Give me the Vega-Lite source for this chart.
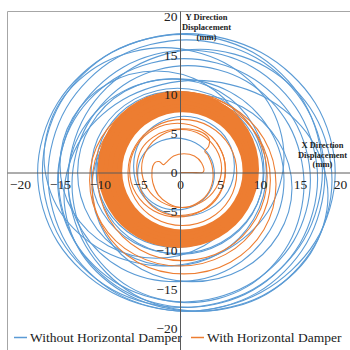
{
"$schema":"https://vega.github.io/schema/vega-lite/v6.json",
"width":343,"height":339,
"autosize":{"type":"none"},
"padding":{"left":7,"top":11,"right":0,"bottom":0},
"config":{"view":{"stroke":"#a6a6a6","strokeWidth":1},"background":"white"},
"datasets":{
"blue":[
{"l":1,"x":19.4,"y":0},{"l":1,"x":16.9,"y":8.9},{"l":1,"x":10.1,"y":15.4},{"l":1,"x":0.8,"y":17.8},{"l":1,"x":-8.5,"y":15.4},{"l":1,"x":-15.3,"y":8.9},{"l":1,"x":-17.8,"y":0},{"l":1,"x":-15.3,"y":-8.9},{"l":1,"x":-8.5,"y":-15.4},{"l":1,"x":0.8,"y":-17.8},{"l":1,"x":10.1,"y":-15.4},{"l":1,"x":16.9,"y":-8.9},
{"l":2,"x":18.1,"y":-0.4},{"l":2,"x":15.8,"y":8.3},{"l":2,"x":9.5,"y":14.7},{"l":2,"x":0.8,"y":17.0},{"l":2,"x":-7.9,"y":14.7},{"l":2,"x":-14.2,"y":8.3},{"l":2,"x":-16.5,"y":-0.4},{"l":2,"x":-14.2,"y":-9.1},{"l":2,"x":-7.9,"y":-15.5},{"l":2,"x":0.8,"y":-17.8},{"l":2,"x":9.5,"y":-15.5},{"l":2,"x":15.8,"y":-9.1},
{"l":3,"x":17.8,"y":0.2},{"l":3,"x":15.5,"y":9.0},{"l":3,"x":9.1,"y":15.4},{"l":3,"x":0.3,"y":17.7},{"l":3,"x":-8.5,"y":15.4},{"l":3,"x":-14.9,"y":9.0},{"l":3,"x":-17.2,"y":0.2},{"l":3,"x":-14.9,"y":-8.6},{"l":3,"x":-8.5,"y":-15.0},{"l":3,"x":0.3,"y":-17.3},{"l":3,"x":9.1,"y":-15.0},{"l":3,"x":15.5,"y":-8.6},
{"l":4,"x":17.2,"y":-0.8},{"l":4,"x":15.0,"y":7.5},{"l":4,"x":9.1,"y":13.5},{"l":4,"x":1.0,"y":15.7},{"l":4,"x":-7.1,"y":13.5},{"l":4,"x":-13.0,"y":7.5},{"l":4,"x":-15.2,"y":-0.8},{"l":4,"x":-13.0,"y":-9.1},{"l":4,"x":-7.1,"y":-15.1},{"l":4,"x":1.0,"y":-17.3},{"l":4,"x":9.1,"y":-15.1},{"l":4,"x":15.0,"y":-9.1},
{"l":5,"x":16.3,"y":-1.0},{"l":5,"x":14.2,"y":6.8},{"l":5,"x":8.4,"y":12.5},{"l":5,"x":0.5,"y":14.6},{"l":5,"x":-7.4,"y":12.5},{"l":5,"x":-13.2,"y":6.8},{"l":5,"x":-15.3,"y":-1.0},{"l":5,"x":-13.2,"y":-8.8},{"l":5,"x":-7.4,"y":-14.5},{"l":5,"x":0.5,"y":-16.6},{"l":5,"x":8.4,"y":-14.5},{"l":5,"x":14.2,"y":-8.8},
{"l":6,"x":15.5,"y":-1.5},{"l":6,"x":13.6,"y":6.1},{"l":6,"x":8.3,"y":11.7},{"l":6,"x":1.0,"y":13.7},{"l":6,"x":-6.3,"y":11.7},{"l":6,"x":-11.6,"y":6.1},{"l":6,"x":-13.5,"y":-1.5},{"l":6,"x":-11.6,"y":-9.1},{"l":6,"x":-6.3,"y":-14.7},{"l":6,"x":1.0,"y":-16.7},{"l":6,"x":8.3,"y":-14.7},{"l":6,"x":13.6,"y":-9.1},
{"l":7,"x":13.0,"y":-1.0},{"l":7,"x":11.2,"y":5.5},{"l":7,"x":6.3,"y":10.3},{"l":7,"x":-0.5,"y":12.0},{"l":7,"x":-7.3,"y":10.3},{"l":7,"x":-12.2,"y":5.5},{"l":7,"x":-14.0,"y":-1.0},{"l":7,"x":-12.2,"y":-7.5},{"l":7,"x":-7.3,"y":-12.3},{"l":7,"x":-0.5,"y":-14.0},{"l":7,"x":6.3,"y":-12.3},{"l":7,"x":11.2,"y":-7.5},
{"l":8,"x":14.0,"y":-2.0},{"l":8,"x":12.3,"y":4.0},{"l":8,"x":7.8,"y":8.4},{"l":8,"x":1.5,"y":10.0},{"l":8,"x":-4.8,"y":8.4},{"l":8,"x":-9.3,"y":4.0},{"l":8,"x":-11.0,"y":-2.0},{"l":8,"x":-9.3,"y":-8.0},{"l":8,"x":-4.8,"y":-12.4},{"l":8,"x":1.5,"y":-14.0},{"l":8,"x":7.8,"y":-12.4},{"l":8,"x":12.3,"y":-8.0},
{"l":9,"x":10.8,"y":0},{"l":9,"x":9.2,"y":6.0},{"l":9,"x":4.9,"y":10.4},{"l":9,"x":-1.0,"y":12.0},{"l":9,"x":-6.9,"y":10.4},{"l":9,"x":-11.2,"y":6.0},{"l":9,"x":-12.8,"y":0},{"l":9,"x":-11.2,"y":-6.0},{"l":9,"x":-6.9,"y":-10.4},{"l":9,"x":-1.0,"y":-12.0},{"l":9,"x":4.9,"y":-10.4},{"l":9,"x":9.2,"y":-6.0},
{"l":10,"x":10.5,"y":0.2},{"l":10,"x":9.1,"y":5.5},{"l":10,"x":5.1,"y":9.4},{"l":10,"x":-0.3,"y":10.8},{"l":10,"x":-5.7,"y":9.4},{"l":10,"x":-9.7,"y":5.5},{"l":10,"x":-11.1,"y":0.2},{"l":10,"x":-9.7,"y":-5.1},{"l":10,"x":-5.7,"y":-9.0},{"l":10,"x":-0.3,"y":-10.4},{"l":10,"x":5.1,"y":-9.0},{"l":10,"x":9.1,"y":-5.1},
{"l":11,"x":10.4,"y":-0.2},{"l":11,"x":9.0,"y":5.0},{"l":11,"x":5.2,"y":8.7},{"l":11,"x":0,"y":10.1},{"l":11,"x":-5.2,"y":8.7},{"l":11,"x":-9.0,"y":5.0},{"l":11,"x":-10.4,"y":-0.2},{"l":11,"x":-9.0,"y":-5.4},{"l":11,"x":-5.2,"y":-9.1},{"l":11,"x":0,"y":-10.5},{"l":11,"x":5.2,"y":-9.1},{"l":11,"x":9.0,"y":-5.4},
{"l":12,"x":9.5,"y":0.4},{"l":12,"x":8.2,"y":5.4},{"l":12,"x":4.5,"y":9.1},{"l":12,"x":-0.5,"y":10.4},{"l":12,"x":-5.5,"y":9.1},{"l":12,"x":-9.2,"y":5.4},{"l":12,"x":-10.5,"y":0.4},{"l":12,"x":-9.2,"y":-4.6},{"l":12,"x":-5.5,"y":-8.3},{"l":12,"x":-0.5,"y":-9.6},{"l":12,"x":4.5,"y":-8.3},{"l":12,"x":8.2,"y":-4.6},
{"l":13,"x":9.0,"y":1},{"l":13,"x":7.4,"y":7.0},{"l":13,"x":3.0,"y":11.4},{"l":13,"x":-3.0,"y":13.0},{"l":13,"x":-9.0,"y":11.4},{"l":13,"x":-13.4,"y":7.0},{"l":13,"x":-15.0,"y":1},{"l":13,"x":-13.4,"y":-5.0},{"l":13,"x":-9.0,"y":-9.4},{"l":13,"x":-3.0,"y":-11.0},{"l":13,"x":3.0,"y":-9.4},{"l":13,"x":7.4,"y":-5.0},
{"l":14,"x":18.5,"y":-3},{"l":14,"x":16.3,"y":4.4},{"l":14,"x":10.3,"y":9.8},{"l":14,"x":2,"y":11.8},{"l":14,"x":-6.3,"y":9.8},{"l":14,"x":-12.3,"y":4.4},{"l":14,"x":-14.5,"y":-3},{"l":14,"x":-12.3,"y":-10.4},{"l":14,"x":-6.3,"y":-15.8},{"l":14,"x":2,"y":-17.8},{"l":14,"x":10.3,"y":-15.8},{"l":14,"x":16.3,"y":-10.4},
{"l":15,"x":6.8,"y":0.8},{"l":15,"x":6.0,"y":4.0},{"l":15,"x":3.7,"y":6.3},{"l":15,"x":0.5,"y":7.2},{"l":15,"x":-2.7,"y":6.3},{"l":15,"x":-5.0,"y":4.0},{"l":15,"x":-5.8,"y":0.8},{"l":15,"x":-5.0,"y":-2.4},{"l":15,"x":-2.7,"y":-4.7},{"l":15,"x":0.5,"y":-5.6},{"l":15,"x":3.7,"y":-4.7},{"l":15,"x":6.0,"y":-2.4},
{"l":16,"x":4.3,"y":-0.2},{"l":16,"x":3.7,"y":2.1},{"l":16,"x":1.9,"y":3.8},{"l":16,"x":-0.5,"y":4.4},{"l":16,"x":-2.9,"y":3.8},{"l":16,"x":-4.7,"y":2.1},{"l":16,"x":-5.3,"y":-0.2},{"l":16,"x":-4.7,"y":-2.5},{"l":16,"x":-2.9,"y":-4.2},{"l":16,"x":-0.5,"y":-4.8},{"l":16,"x":1.9,"y":-4.2},{"l":16,"x":3.7,"y":-2.5},
{"l":17,"x":13.0,"y":2},{"l":17,"x":11.0,"y":9.0},{"l":17,"x":5.5,"y":14.1},{"l":17,"x":-2,"y":16},{"l":17,"x":-9.5,"y":14.1},{"l":17,"x":-15.0,"y":9.0},{"l":17,"x":-17.0,"y":2},{"l":17,"x":-15.0,"y":-5.0},{"l":17,"x":-9.5,"y":-10.1},{"l":17,"x":-2,"y":-12},{"l":17,"x":5.5,"y":-10.1},{"l":17,"x":11.0,"y":-5.0},
{"l":18,"x":19.0,"y":-1},{"l":18,"x":16.8,"y":7.4},{"l":18,"x":10.8,"y":13.5},{"l":18,"x":2.5,"y":15.8},{"l":18,"x":-5.8,"y":13.5},{"l":18,"x":-11.8,"y":7.4},{"l":18,"x":-14.0,"y":-1},{"l":18,"x":-11.8,"y":-9.4},{"l":18,"x":-5.8,"y":-15.6},{"l":18,"x":2.5,"y":-17.8},{"l":18,"x":10.8,"y":-15.6},{"l":18,"x":16.8,"y":-9.4}
],
"band":[
{"l":1,"x":8.2,"y":0.2},{"l":1,"x":7.1,"y":4.2},{"l":1,"x":4.3,"y":7.0},{"l":1,"x":0.3,"y":8.1},{"l":1,"x":-3.7,"y":7.0},{"l":1,"x":-6.5,"y":4.2},{"l":1,"x":-7.6,"y":0.2},{"l":1,"x":-6.5,"y":-3.8},{"l":1,"x":-3.7,"y":-6.6},{"l":1,"x":0.3,"y":-7.7},{"l":1,"x":4.3,"y":-6.6},{"l":1,"x":7.1,"y":-3.8},
{"l":2,"x":8.6,"y":0.3},{"l":2,"x":7.4,"y":4.5},{"l":2,"x":4.4,"y":7.5},{"l":2,"x":0.2,"y":8.7},{"l":2,"x":-4.0,"y":7.5},{"l":2,"x":-7.0,"y":4.5},{"l":2,"x":-8.2,"y":0.3},{"l":2,"x":-7.0,"y":-3.9},{"l":2,"x":-4.0,"y":-6.9},{"l":2,"x":0.2,"y":-8.1},{"l":2,"x":4.4,"y":-6.9},{"l":2,"x":7.4,"y":-3.9},
{"l":3,"x":8.8,"y":0.3},{"l":3,"x":7.6,"y":4.7},{"l":3,"x":4.4,"y":7.9},{"l":3,"x":0,"y":9.1},{"l":3,"x":-4.4,"y":7.9},{"l":3,"x":-7.6,"y":4.7},{"l":3,"x":-8.8,"y":0.3},{"l":3,"x":-7.6,"y":-4.1},{"l":3,"x":-4.4,"y":-7.3},{"l":3,"x":0,"y":-8.5},{"l":3,"x":4.4,"y":-7.3},{"l":3,"x":7.6,"y":-4.1},
{"l":4,"x":9.2,"y":0.3},{"l":4,"x":7.9,"y":4.9},{"l":4,"x":4.5,"y":8.3},{"l":4,"x":-0.1,"y":9.6},{"l":4,"x":-4.7,"y":8.3},{"l":4,"x":-8.1,"y":4.9},{"l":4,"x":-9.4,"y":0.3},{"l":4,"x":-8.1,"y":-4.3},{"l":4,"x":-4.7,"y":-7.7},{"l":4,"x":-0.1,"y":-9.0},{"l":4,"x":4.5,"y":-7.7},{"l":4,"x":7.9,"y":-4.3},
{"l":5,"x":9.5,"y":0.4},{"l":5,"x":8.2,"y":5.3},{"l":5,"x":4.7,"y":8.8},{"l":5,"x":-0.2,"y":10.1},{"l":5,"x":-5.1,"y":8.8},{"l":5,"x":-8.6,"y":5.3},{"l":5,"x":-9.9,"y":0.4},{"l":5,"x":-8.6,"y":-4.5},{"l":5,"x":-5.1,"y":-8.0},{"l":5,"x":-0.2,"y":-9.3},{"l":5,"x":4.7,"y":-8.0},{"l":5,"x":8.2,"y":-4.5}
],
"orange":[
{"l":1,"x":12.0,"y":-1.5},{"l":1,"x":10.5,"y":4.3},{"l":1,"x":6.3,"y":8.5},{"l":1,"x":0.5,"y":10.0},{"l":1,"x":-5.3,"y":8.5},{"l":1,"x":-9.5,"y":4.3},{"l":1,"x":-11.0,"y":-1.5},{"l":1,"x":-9.5,"y":-7.3},{"l":1,"x":-5.3,"y":-11.5},{"l":1,"x":0.5,"y":-13.0},{"l":1,"x":6.3,"y":-11.5},{"l":1,"x":10.5,"y":-7.3},
{"l":2,"x":11.3,"y":-1},{"l":2,"x":9.8,"y":4.5},{"l":2,"x":5.7,"y":8.5},{"l":2,"x":0,"y":10.0},{"l":2,"x":-5.7,"y":8.5},{"l":2,"x":-9.8,"y":4.5},{"l":2,"x":-11.3,"y":-1},{"l":2,"x":-9.8,"y":-6.5},{"l":2,"x":-5.7,"y":-10.5},{"l":2,"x":0,"y":-12},{"l":2,"x":5.7,"y":-10.5},{"l":2,"x":9.8,"y":-6.5},
{"l":3,"x":10.9,"y":-0.5},{"l":3,"x":9.5,"y":4.9},{"l":3,"x":5.6,"y":8.9},{"l":3,"x":0.3,"y":10.3},{"l":3,"x":-5.0,"y":8.9},{"l":3,"x":-8.9,"y":4.9},{"l":3,"x":-10.3,"y":-0.5},{"l":3,"x":-8.9,"y":-5.9},{"l":3,"x":-5.0,"y":-9.9},{"l":3,"x":0.3,"y":-11.3},{"l":3,"x":5.6,"y":-9.9},{"l":3,"x":9.5,"y":-5.9},
{"l":4,"x":5.2,"y":0.5},{"l":4,"x":4.5,"y":3.0},{"l":4,"x":2.7,"y":4.8},{"l":4,"x":0.2,"y":5.5},{"l":4,"x":-2.3,"y":4.8},{"l":4,"x":-4.1,"y":3.0},{"l":4,"x":-4.8,"y":0.5},{"l":4,"x":-4.1,"y":-2.0},{"l":4,"x":-2.3,"y":-3.8},{"l":4,"x":0.2,"y":-4.5},{"l":4,"x":2.7,"y":-3.8},{"l":4,"x":4.5,"y":-2.0},
{"l":5,"x":5.7,"y":0.3},{"l":5,"x":4.9,"y":3.3},{"l":5,"x":2.7,"y":5.5},{"l":5,"x":-0.3,"y":6.3},{"l":5,"x":-3.3,"y":5.5},{"l":5,"x":-5.5,"y":3.3},{"l":5,"x":-6.3,"y":0.3},{"l":5,"x":-5.5,"y":-2.7},{"l":5,"x":-3.3,"y":-4.9},{"l":5,"x":-0.3,"y":-5.7},{"l":5,"x":2.7,"y":-4.9},{"l":5,"x":4.9,"y":-2.7},
{"l":6,"x":7.1,"y":0},{"l":6,"x":6.2,"y":3.4},{"l":6,"x":3.7,"y":5.9},{"l":6,"x":0.3,"y":6.8},{"l":6,"x":-3.1,"y":5.9},{"l":6,"x":-5.6,"y":3.4},{"l":6,"x":-6.5,"y":0},{"l":6,"x":-5.6,"y":-3.4},{"l":6,"x":-3.1,"y":-5.9},{"l":6,"x":0.3,"y":-6.8},{"l":6,"x":3.7,"y":-5.9},{"l":6,"x":6.2,"y":-3.4}
],
"start":[
{"x":0,"y":0},{"x":1.5,"y":0},{"x":2.9,"y":0.05},{"x":2.7,"y":1.2},{"x":1.8,"y":2.1},{"x":0.5,"y":2.4},{"x":-0.8,"y":2.1},{"x":-1.7,"y":1.3},{"x":-2.1,"y":1.0},{"x":-2.6,"y":1.4},{"x":-3.2,"y":1.2},{"x":-3.5,"y":0.3},{"x":-3.4,"y":-1.3},{"x":-2.7,"y":-2.9},{"x":-1.4,"y":-4.0},{"x":0.3,"y":-4.5},{"x":2.0,"y":-4.0},{"x":3.4,"y":-2.8},{"x":4.1,"y":-1.0},{"x":4.0,"y":0.9},{"x":3.5,"y":2.2},{"x":3.1,"y":2.7},{"x":3.6,"y":3.4},{"x":3.6,"y":4.4},{"x":2.4,"y":5.3},{"x":0.5,"y":5.6},{"x":-1.5,"y":5.4},{"x":-3.4,"y":4.5},{"x":-4.8,"y":3.0},{"x":-5.4,"y":0.9},{"x":-5.2,"y":-1.4},{"x":-4.3,"y":-3.4},{"x":-2.8,"y":-4.8},{"x":-0.7,"y":-5.5},{"x":1.6,"y":-5.3},{"x":3.6,"y":-4.4},{"x":5.0,"y":-2.7},{"x":5.6,"y":-0.5},{"x":5.5,"y":1.8},{"x":4.6,"y":3.8}
]
},
"encoding":{
"x":{"field":"x","type":"quantitative","scale":{"domain":[-21.625,21.25],"nice":false,"zero":false},
 "axis":{"values":[-20,-15,-10,-5,0,5,10,15,20],"offset":-177.5,"zindex":1,"ticks":false,"grid":false,"domainColor":"#5a5a5a","domainWidth":1,
  "labelFont":"Liberation Serif","labelFontSize":13.5,"labelColor":"#222222","labelPadding":5,"labelOverlap":false,"labelFlush":false,"labelBound":false,
  "title":["X Direction","Displacement","(mm)"],"titleFont":"Liberation Serif","titleFontSize":8.5,"titleFontWeight":"bold","titleColor":"#222222","titleLineHeight":9.5,
  "titleAngle":0,"titleAlign":"center","titleBaseline":"top","titleX":315,"titleY":-32}},
"y":{"field":"y","type":"quantitative","scale":{"domain":[-22.76,20.7],"nice":false,"zero":false},
 "axis":{"values":[-20,-15,-10,-5,0,5,10,15,20],"offset":-173,"zindex":1,"ticks":false,"grid":false,"domainColor":"#5a5a5a","domainWidth":1,
  "labelFont":"Liberation Serif","labelFontSize":13.5,"labelColor":"#222222","labelPadding":3,"labelOverlap":false,"labelFlush":false,"labelBound":false,
  "title":["Y Direction","Displacement","(mm)"],"titleFont":"Liberation Serif","titleFontSize":8.5,"titleFontWeight":"bold","titleColor":"#222222","titleLineHeight":10,
  "titleAngle":0,"titleAlign":"center","titleBaseline":"top","titleX":26,"titleY":1.5}}
},
"layer":[
{"data":{"name":"blue"},"mark":{"type":"line","interpolate":"cardinal-closed","strokeWidth":1.1},
 "encoding":{"detail":{"field":"l","type":"nominal"},"order":{"value":null},
  "color":{"datum":"Without Horizontal Damper","type":"nominal",
   "scale":{"domain":["Without Horizontal Damper","With Horizontal Damper"],"range":["#5b9bd5","#ed7d31"]},
   "legend":{"title":null,"orient":"bottom-left","direction":"horizontal","offset":6,"padding":0,"symbolType":"stroke","symbolSize":169,"symbolStrokeWidth":1.5,"labelFont":"Liberation Serif","labelFontSize":13.5,"labelColor":"#222222","labelOffset":2,"columnPadding":6,"labelLimit":0}}}},
{"data":{"name":"band"},"mark":{"type":"line","interpolate":"cardinal-closed","strokeWidth":6},
 "encoding":{"detail":{"field":"l","type":"nominal"},"order":{"value":null},"color":{"datum":"With Horizontal Damper","type":"nominal"}}},
{"data":{"name":"orange"},"mark":{"type":"line","interpolate":"cardinal-closed","strokeWidth":1.1},
 "encoding":{"detail":{"field":"l","type":"nominal"},"order":{"value":null},"color":{"datum":"With Horizontal Damper","type":"nominal"}}},
{"data":{"name":"start"},"mark":{"type":"line","interpolate":"cardinal","strokeWidth":1.1},
 "encoding":{"order":{"value":null},"color":{"datum":"With Horizontal Damper","type":"nominal"}}}
]
}
